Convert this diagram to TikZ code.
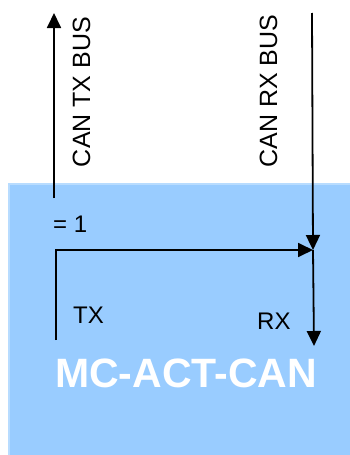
\documentclass[tikz,border=0pt]{standalone}
\usepackage{fontspec}
\setmainfont{Liberation Sans}
\usepackage{xcolor}
\usepackage{tikz}
\usetikzlibrary{arrows.meta,positioning}

\definecolor{modblue}{HTML}{99CCFF}
\definecolor{modedge}{HTML}{B8DCFF}

\begin{document}
\begin{tikzpicture}[
  x=1pt, y=-1pt,
  modbox/.style={draw=modedge, fill=modblue, line width=2pt, inner sep=0pt,
    anchor=north west, minimum width=342pt, minimum height=272pt},
  lbl/.style={inner sep=0pt, font=\fontsize{24}{28}\selectfont},
  buslbl/.style={inner sep=0pt, rotate=90, anchor=base,
    font=\fontsize{25}{30}\selectfont},
  wire/.style={line width=1.8pt},
  arr/.style={-{Triangle[length=15pt,width=14pt]}, line width=1.8pt}
]
\useasboundingbox (0,0) rectangle (350,455);

% Module
\node[modbox] (mod) at (8,183) {};

% Bus labels
\node[buslbl] (txbus) at (90,92) {CAN TX BUS};
\node[buslbl] (rxbus) at (277,91) {CAN RX BUS};

% Inner labels
\node[lbl, anchor=base west] (one) at (53,232) {= 1};
\node[lbl, anchor=base west] (tx) at (73,323) {TX};
\node[lbl, anchor=base west] (rx) at (257,329) {RX};
\node[inner sep=0pt, anchor=base west, text=white,
  font=\fontsize{41}{47}\selectfont\bfseries] (name) at (55,387) {MC-ACT-CAN};

% Wire ends
\coordinate (txin) at (54,198);
\coordinate (txout) at (54,13);
\coordinate (rxin) at (312,13);
\coordinate (join) at (313,250);
\coordinate (txsrc) at (56,340);
\coordinate (rxout) at (314,346);

% Arrows
\draw[arr] (txin) -- (txout);
\draw[arr] (rxin) -- (join);
\draw[arr] (txsrc) |- (join);
\draw[arr] (join) -- (rxout);

\end{tikzpicture}
\end{document}
